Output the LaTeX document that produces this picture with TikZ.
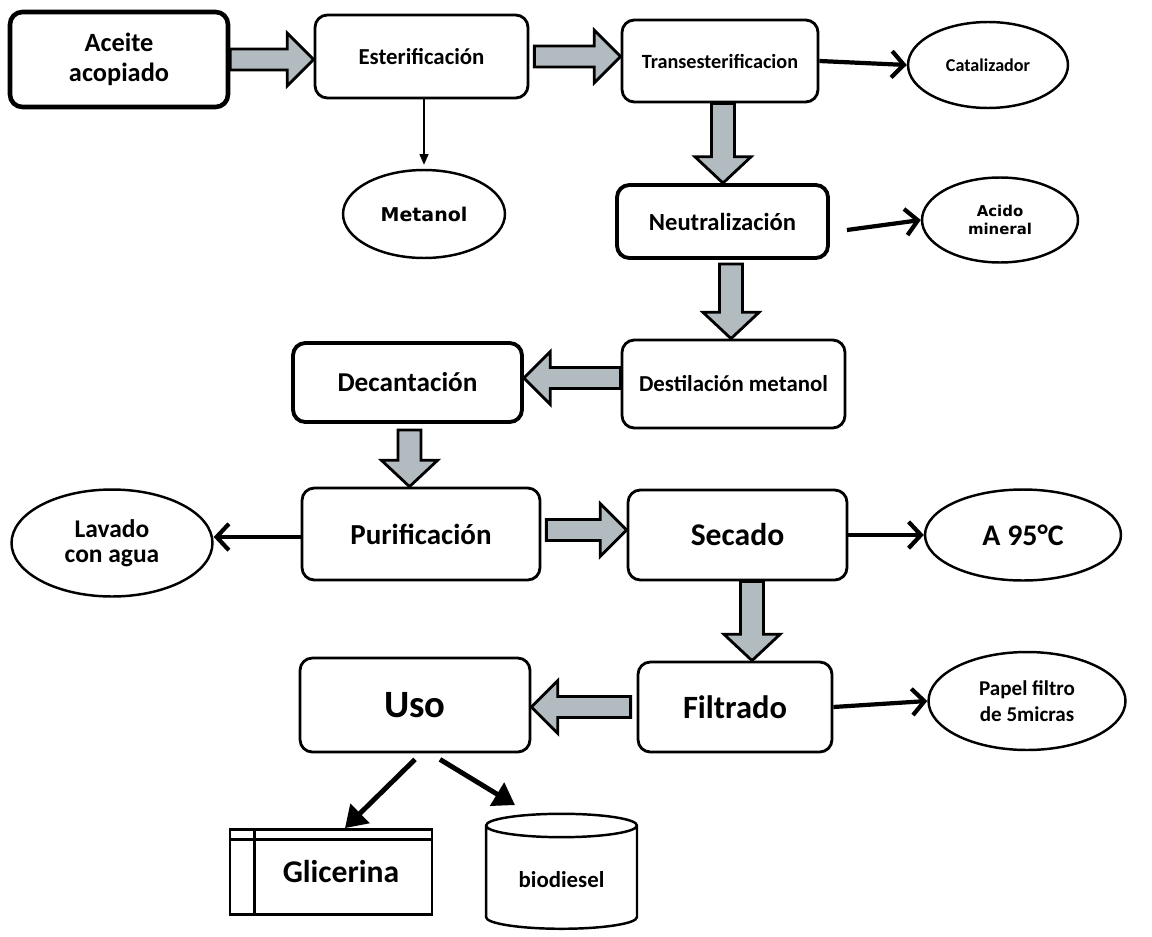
\documentclass[tikz,border=0pt]{standalone}
\usepackage{fontspec}
\setmainfont{Carlito}
\newfontfamily\dejavu{DejaVu Sans}
\usetikzlibrary{arrows.meta,calc,shapes.geometric}
\definecolor{gris}{RGB}{178,187,191}
\tikzset{>={Straight Barb[length=7pt,width=15pt]}}
\tikzset{
  caja/.style={draw,rounded corners=7pt,line width=1.6pt,align=center},
  elipse/.style={draw,ellipse,line width=1.4pt,align=center,inner sep=0pt},
  gruesa/.style={->,line width=2.4pt},
  fina/.style={-{Triangle[length=6pt,width=5pt]},line width=0.9pt},
  diag/.style={-{Triangle[length=12pt,width=15pt]},line width=2.8pt},
  derecha/.style={fill=gris,draw,line width=1.6pt,to path={let \p1=(\tikztostart),\p2=(\tikztotarget) in
    (\x1,\y1+6pt)--(\x2-15pt,\y1+6pt)--(\x2-15pt,\y1+15pt)--(\x2,\y1)--(\x2-15pt,\y1-15pt)--(\x2-15pt,\y1-6pt)--(\x1,\y1-6pt)--cycle}},
  izquierda/.style={fill=gris,draw,line width=1.6pt,to path={let \p1=(\tikztostart),\p2=(\tikztotarget) in
    (\x1,\y1+6pt)--(\x2+15pt,\y1+6pt)--(\x2+15pt,\y1+15pt)--(\x2,\y1)--(\x2+15pt,\y1-15pt)--(\x2+15pt,\y1-6pt)--(\x1,\y1-6pt)--cycle}},
  abajo/.style={fill=gris,draw,line width=1.6pt,to path={let \p1=(\tikztostart),\p2=(\tikztotarget) in
    (\x1-6.5pt,\y1)--(\x1-6.5pt,\y2+15pt)--(\x1-16pt,\y2+15pt)--(\x1,\y2)--(\x1+16pt,\y2+15pt)--(\x1+6.5pt,\y2+15pt)--(\x1+6.5pt,\y1)--cycle}}
}
\begin{document}
\begin{tikzpicture}[x=0.02cm,y=-0.02cm]
\useasboundingbox (0,0) rectangle (1152,936);
% primera fila
\node[caja,line width=2.6pt,minimum width=4.36cm,minimum height=1.9cm,font=\bfseries\fontsize{15}{17}\selectfont] (ace) at (119,59.5) {Aceite\\acopiado};
\node[caja,minimum width=4.26cm,minimum height=1.66cm,font=\bfseries\fontsize{13}{15}\selectfont] (est) at (421.5,56.5) {Esterificación};
\node[caja,minimum width=3.92cm,minimum height=1.64cm,font=\bfseries\fontsize{11.5}{14}\selectfont] (tra) at (720,61) {Transesterificacion};
\node[elipse,minimum width=3.2cm,minimum height=1.72cm,font=\bfseries\fontsize{10.3}{12}\selectfont] (cat) at (988,65) {Catalizador};
\node[elipse,minimum width=3.24cm,minimum height=1.76cm,font=\dejavu\bfseries\fontsize{10.8}{13}\selectfont] (met) at (424,214) {Metanol};
% columna derecha
\node[caja,line width=2.2pt,minimum width=4.22cm,minimum height=1.46cm,font=\bfseries\fontsize{14}{16}\selectfont] (neu) at (722.5,221.5) {Neutralización};
\node[elipse,minimum width=3.12cm,minimum height=1.7cm,font=\dejavu\bfseries\fontsize{8.5}{10}\selectfont] (aci) at (1000,220) {Acido\\mineral};
\node[caja,minimum width=4.46cm,minimum height=1.76cm,font=\bfseries\fontsize{13}{15}\selectfont] (des) at (733.5,384) {Destilación metanol};
\node[caja,line width=2.2pt,minimum width=4.58cm,minimum height=1.58cm,font=\bfseries\fontsize{15.5}{18}\selectfont] (dec) at (407.5,382.5) {Decantación};
% purificacion y secado
\node[caja,minimum width=4.76cm,minimum height=1.84cm,font=\bfseries\fontsize{16.5}{19}\selectfont] (pur) at (421,534) {Purificación};
\node[caja,minimum width=4.38cm,minimum height=1.8cm,font=\bfseries\fontsize{18}{21}\selectfont] (sec) at (737.5,535) {Secado};
\node[elipse,minimum width=4.02cm,minimum height=2.14cm,font=\bfseries\fontsize{14.5}{14.5}\selectfont] (lav) at (112,543) {Lavado\\con agua};
\node[elipse,minimum width=3.92cm,minimum height=1.82cm,font=\bfseries\fontsize{17}{20}\selectfont] (a95) at (1023,535) {A 95°C};
% filtrado y uso
\node[caja,minimum width=3.88cm,minimum height=1.8cm,font=\bfseries\fontsize{18.5}{21}\selectfont] (fil) at (735,707) {Filtrado};
\node[elipse,minimum width=3.94cm,minimum height=1.96cm,font=\bfseries\fontsize{12}{15}\selectfont] (pap) at (1027,701) {Papel filtro\\de 5micras};
\node[caja,minimum width=4.6cm,minimum height=1.88cm,font=\bfseries\fontsize{22}{26}\selectfont] (uso) at (415,705) {Uso};
\node[draw,line width=1.6pt,minimum width=4.04cm,minimum height=1.7cm,font=\bfseries\fontsize{18}{21}\selectfont] (gli) at (331,872) {\hspace*{0.4cm}Glicerina};
\draw[line width=1.6pt] ([yshift=-0.22cm]gli.north west) -- ([yshift=-0.22cm]gli.north east);
\draw[line width=1.6pt] ([xshift=0.52cm]gli.north west) -- ([xshift=0.52cm]gli.south west);
\node[draw,cylinder,shape border rotate=90,aspect=0.24,line width=1.4pt,minimum height=2.3cm,minimum width=3.02cm,font=\bfseries\fontsize{13}{15}\selectfont] (bio) at (561.5,880) {biodiesel};
% flechas grandes
\draw[derecha] (ace.east) to (est.west);
\draw[derecha] ([xshift=0.1cm]est.east) to (tra.west);
\draw[abajo] ([xshift=0.06cm]tra.south) to (neu.north);
\draw[abajo] ([xshift=0.17cm,yshift=-0.08cm]neu.south) to (des.north);
\draw[izquierda] ([yshift=0.12cm]des.west) to ([yshift=0.12cm]dec.east);
\draw[abajo] ([xshift=0.04cm,yshift=-0.12cm]dec.south) to (pur.north);
\draw[derecha] ([xshift=0.1cm,yshift=0.08cm]pur.east) to (sec.west);
\draw[abajo] ([xshift=0.29cm]sec.south) to (fil.north);
\draw[izquierda] ([xshift=-0.12cm]fil.west) to (uso.east);
% flechas finas
\draw[fina] (est.south -| met.north) -- ([yshift=0.08cm]met.north);
\draw[gruesa] (tra.east) -- (cat.west);
\draw[gruesa] ([xshift=0.34cm,yshift=-0.17cm]neu.east) -- (aci.west);
\draw[gruesa] ([yshift=-0.06cm]pur.west) -- ([yshift=-0.06cm]pur.west -| lav.east);
\draw[gruesa] (sec.east) -- (a95.west);
\draw[gruesa] (fil.east) -- (pap.west);
\draw[diag] ([yshift=-0.12cm]uso.south) -- ([xshift=0.28cm]gli.north);
\draw[diag] ([xshift=0.5cm,yshift=-0.12cm]uso.south) -- ([xshift=-0.93cm,yshift=0.15cm]bio.north);
\end{tikzpicture}
\end{document}
